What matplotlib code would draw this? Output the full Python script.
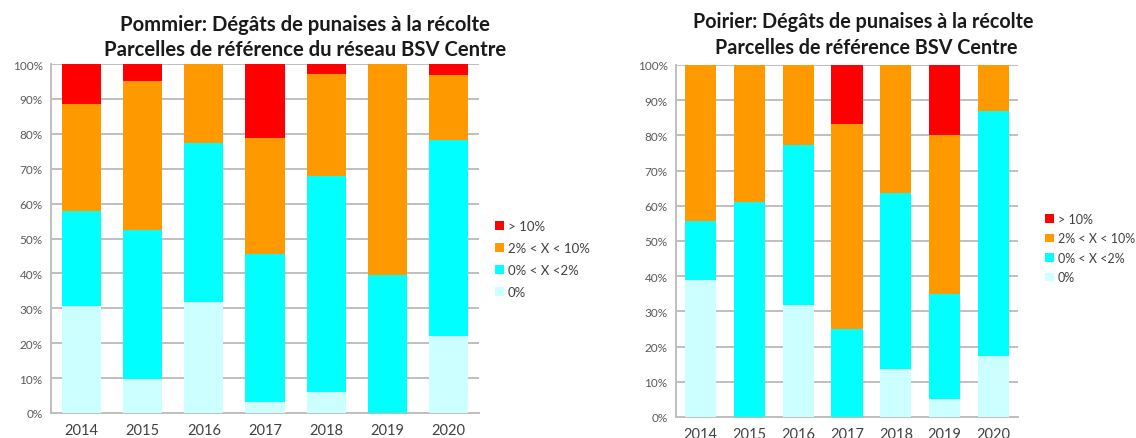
from matplotlib.figure import Figure
import numpy as np

years = ["2014", "2015", "2016", "2017", "2018", "2019", "2020"]
classes = ["0%", "0% < X <2%", "2% < X < 10%", "> 10%"]
colors = ["#CCFFFF", "#00FFFF", "#FF9900", "#FF0000"]

# Pommier (% of plots per damage class, bottom to top)
pommier_0 = [30.8, 9.6, 31.7, 3.1, 5.9, 0.0, 22.0]
pommier_0_2 = [27.0, 42.9, 45.8, 42.5, 61.9, 39.4, 56.2]
pommier_2_10 = [30.6, 42.7, 22.5, 33.3, 29.2, 60.6, 18.6]
pommier_10 = [11.6, 4.8, 0.0, 21.1, 3.0, 0.0, 3.2]

# Poirier
poirier_0 = [38.9, 0.0, 31.8, 0.0, 13.6, 5.0, 17.4]
poirier_0_2 = [16.7, 61.1, 45.5, 25.0, 50.0, 30.0, 69.6]
poirier_2_10 = [44.4, 38.9, 22.7, 58.3, 36.4, 45.0, 13.0]
poirier_10 = [0.0, 0.0, 0.0, 16.7, 0.0, 20.0, 0.0]

FONT = "Lato"
W, H = 1136, 439


def stacked(ax, series):
    x = np.arange(len(years))
    bottom = np.zeros(len(years))
    bars = []
    for vals, c in zip(series, colors):
        b = ax.bar(x, vals, 0.64, bottom=bottom, color=c, zorder=3)
        bars.append(b)
        bottom += np.array(vals)
    ax.set_xlim(-0.5, len(years) - 0.5)
    ax.set_ylim(0, 100)
    ax.set_yticks(np.arange(0, 101, 10))
    ax.set_yticklabels([f"{v}%" for v in range(0, 101, 10)])
    ax.set_xticks(x)
    ax.set_xticklabels(years)
    ax.grid(axis="y", color="#BFBFBF", linewidth=1.4, zorder=0)
    for s in ["top", "right"]:
        ax.spines[s].set_visible(False)
    for s in ["left", "bottom"]:
        ax.spines[s].set_color("#BFBFBF")
        ax.spines[s].set_linewidth(1.4)
    ax.tick_params(axis="y", length=0, labelsize=8.5, labelcolor="#595959", pad=6)
    ax.tick_params(axis="x", length=0, labelsize=10.5, labelcolor="#404040", pad=7)
    for lab in ax.get_xticklabels() + ax.get_yticklabels():
        lab.set_family(FONT)
    return bars


fig = Figure(figsize=(W / 100, H / 100), dpi=100)
fig.patch.set_facecolor("white")

ax1 = fig.add_axes([51 / W, 25 / H, 428 / W, 349 / H])
bars1 = stacked(ax1, [pommier_0, pommier_0_2, pommier_2_10, pommier_10])
fig.text(305 / W, 1 - 25 / H, "Pommier: Dégâts de punaises à la récolte",
         ha="center", va="center", fontsize=14.6, fontweight="bold", family=FONT, color="#1a1a1a")
fig.text(305 / W, 1 - 50 / H, "Parcelles de référence du réseau BSV Centre",
         ha="center", va="center", fontsize=14.6, fontweight="bold", family=FONT, color="#1a1a1a")
fig.legend(bars1[::-1], classes[::-1], loc="center left", bbox_to_anchor=(483 / W, 1 - 260 / H),
           frameon=False, handlelength=0.7, handleheight=0.7, handletextpad=0.3,
           labelspacing=0.75, prop={"family": FONT, "size": 9.5}, labelcolor="#404040")

ax2 = fig.add_axes([676 / W, 21 / H, 342 / W, 352 / H])
bars2 = stacked(ax2, [poirier_0, poirier_0_2, poirier_2_10, poirier_10])
fig.text(863 / W, 1 - 22 / H, "Poirier: Dégâts de punaises à la récolte",
         ha="center", va="center", fontsize=14.2, fontweight="bold", family=FONT, color="#1a1a1a")
fig.text(866 / W, 1 - 48 / H, "Parcelles de référence BSV Centre",
         ha="center", va="center", fontsize=14.2, fontweight="bold", family=FONT, color="#1a1a1a")
fig.legend(bars2[::-1], classes[::-1], loc="center left", bbox_to_anchor=(1034 / W, 1 - 249 / H),
           frameon=False, handlelength=0.7, handleheight=0.7, handletextpad=0.3,
           labelspacing=0.6, prop={"family": FONT, "size": 9}, labelcolor="#404040")

fig.savefig("out.png", dpi=100)
